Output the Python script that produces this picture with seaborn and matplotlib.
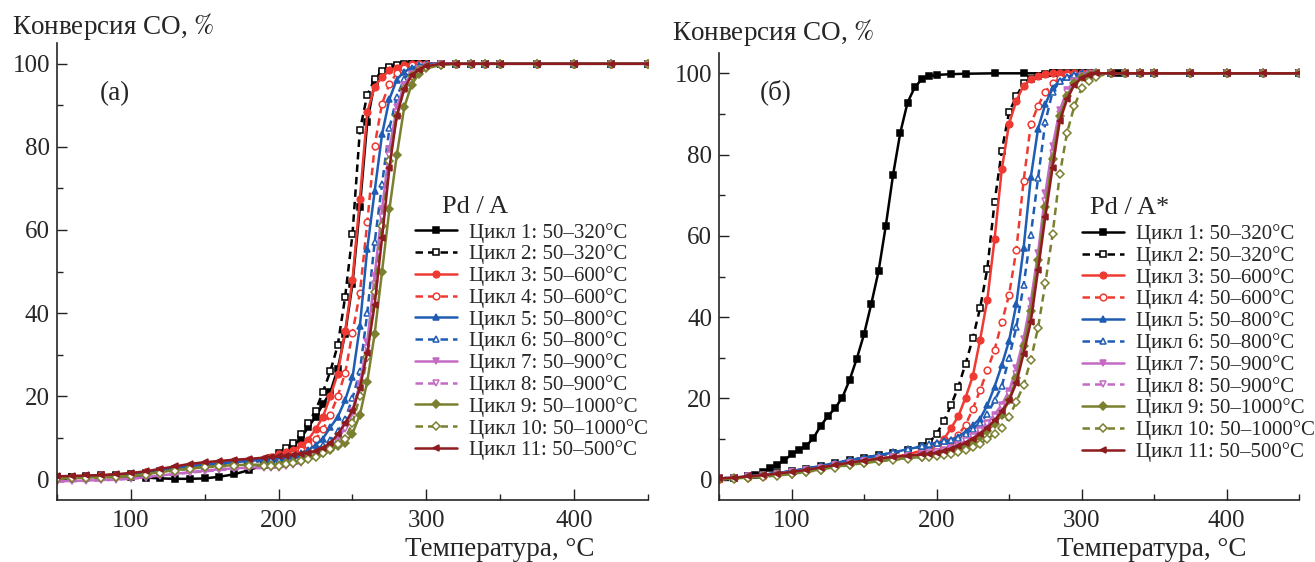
import matplotlib
matplotlib.use("Agg")
import matplotlib.pyplot as plt
import seaborn as sns
from matplotlib.ticker import MultipleLocator

# -------------------------------
# Data
# -------------------------------
LABELS = ["Цикл 1: 50–320°C", "Цикл 2: 50–320°C", "Цикл 3: 50–600°C",
          "Цикл 4: 50–600°C", "Цикл 5: 50–800°C", "Цикл 6: 50–800°C",
          "Цикл 7: 50–900°C", "Цикл 8: 50–900°C", "Цикл 9: 50–1000°C",
          "Цикл 10: 50–1000°C", "Цикл 11: 50–500°C"]

# panel (a) Pd/A
temp_a = [50, 60, 70, 80, 90, 100, 110, 120, 130, 140, 150, 160, 170, 180, 190,
          195, 200, 205, 210, 215, 220, 225, 230, 235, 240, 245, 250, 255, 260, 265, 270, 275, 280, 285, 290, 295, 300,
          310, 320, 330, 340, 350, 375, 400, 425, 450]
a_c1 = [0.5, 0.5, 0.6, 0.6, 0.7, 0.6, 0.4, 0.2, 0.1, 0.1, 0.2, 0.6, 1.2, 2.2, 3.4,
        4.3, 5.0, 6.5, 8.0, 9.8, 12.5, 15.0, 18.0, 21.0, 26.5, 35.0, 47.0, 65.5, 86.0, 95.5, 97.8, 98.9, 99.5, 99.8, 100, 100, 100,
        100, 100, 100, 100, 100, 100, 100, 100, 100]
a_c2 = [0.5, 0.6, 0.7, 0.9, 1.1, 1.3, 1.6, 2.0, 2.4, 2.8, 3.2, 3.5, 3.8, 4.1, 4.5,
        5.2, 6.2, 7.4, 8.8, 11.0, 13.5, 16.5, 21.0, 26.0, 32.2, 43.8, 59.0, 84.0, 92.5, 96.3, 98.2, 99.2, 99.7, 100, 100, 100, 100,
        100, 100, 100, 100, 100, 100, 100, 100, 100]
a_c3 = [0.5, 0.6, 0.8, 0.9, 1.1, 1.3, 1.7, 2.2, 2.8, 3.3, 3.7, 4.0, 4.3, 4.6, 4.9,
        5.3, 6.0, 6.5, 7.0, 8.2, 9.5, 12.0, 15.0, 20.0, 25.4, 35.6, 48.0, 67.5, 88.3, 94.5, 96.8, 98.4, 99.1, 99.6, 100, 100, 100,
        100, 100, 100, 100, 100, 100, 100, 100, 100]
a_c4 = [0.5, 0.6, 0.7, 0.9, 1.1, 1.3, 1.7, 2.2, 2.7, 3.2, 3.6, 3.9, 4.2, 4.5, 4.8,
        5.0, 5.3, 5.6, 6.0, 7.0, 8.2, 9.6, 12.0, 15.5, 20.0, 25.5, 35.3, 44.8, 61.8, 80.3, 90.4, 95.1, 97.8, 99.0, 99.6, 100, 100,
        100, 100, 100, 100, 100, 100, 100, 100, 100]
a_c5 = [0.4, 0.6, 0.7, 0.9, 1.0, 1.2, 1.6, 2.1, 2.6, 3.1, 3.5, 3.8, 4.1, 4.4, 4.7,
        4.8, 5.0, 5.2, 5.5, 6.2, 7.0, 8.2, 9.8, 12.5, 15.0, 19.0, 24.5, 36.8, 55.5, 69.3, 83.0, 91.5, 96.2, 98.1, 99.0, 99.6, 100,
        100, 100, 100, 100, 100, 100, 100, 100, 100]
a_c6 = [0.4, 0.5, 0.7, 0.8, 1.0, 1.2, 1.5, 2.0, 2.5, 3.0, 3.4, 3.7, 4.0, 4.3, 4.5,
        4.6, 4.7, 4.8, 5.0, 5.6, 6.2, 7.0, 8.2, 9.4, 11.5, 14.5, 19.5, 26.0, 40.0, 57.0, 71.0, 84.5, 92.0, 96.4, 98.3, 99.2, 99.7,
        100, 100, 100, 100, 100, 100, 100, 100, 100]
a_c7 = [-0.5, -0.4, -0.3, -0.2, 0.0, 0.2, 0.5, 0.9, 1.3, 1.7, 2.1, 2.4, 2.6, 2.8, 2.9,
        2.95, 3.0, 3.3, 3.7, 4.2, 4.8, 5.6, 6.6, 7.8, 9.4, 12.5, 16.5, 23.0, 33.0, 49.0, 65.0, 79.5, 89.5, 95.0, 97.6, 98.8, 99.5,
        100, 100, 100, 100, 100, 100, 100, 100, 100]
a_c8 = [-0.6, -0.5, -0.4, -0.3, -0.1, 0.1, 0.4, 0.8, 1.2, 1.6, 1.9, 2.2, 2.4, 2.6, 2.7,
        2.75, 2.8, 3.1, 3.5, 4.0, 4.6, 5.4, 6.4, 7.6, 9.0, 12.0, 16.0, 22.0, 31.5, 47.0, 63.0, 78.0, 88.5, 94.5, 97.3, 98.7, 99.4,
        100, 100, 100, 100, 100, 100, 100, 100, 100]
a_c9 = [0.2, 0.3, 0.4, 0.5, 0.6, 0.8, 1.2, 1.7, 2.2, 2.6, 3.0, 3.2, 3.4, 3.5, 3.5,
        3.5, 3.5, 3.8, 4.1, 4.5, 5.0, 5.6, 6.3, 7.0, 8.0, 8.8, 11.0, 15.5, 23.5, 35.0, 50.0, 65.0, 78.0, 89.5, 95.0, 97.6, 98.9,
        99.7, 100, 100, 100, 100, 100, 100, 100, 100]
a_c10 = [0.1, 0.2, 0.3, 0.4, 0.6, 0.8, 1.1, 1.6, 2.1, 2.5, 2.9, 3.1, 3.2, 3.3, 3.3,
         3.3, 3.3, 3.6, 3.9, 4.3, 4.8, 5.4, 6.2, 7.2, 8.4, 9.8, 13.5, 20.0, 29.5, 45.0, 61.0, 76.5, 87.5, 94.0, 97.0, 98.5, 99.3,
         99.8, 100, 100, 100, 100, 100, 100, 100, 100]
a_c11 = [0.7, 0.8, 0.9, 1.0, 1.2, 1.5, 1.9, 2.5, 3.1, 3.7, 4.1, 4.4, 4.7, 4.9, 5.2,
         5.3, 5.5, 5.7, 5.9, 6.1, 6.4, 6.8, 7.5, 8.7, 10.8, 13.5, 16.5, 22.0, 30.5, 42.0, 58.0, 75.0, 87.5, 94.0, 97.2, 98.6, 99.4,
         100, 100, 100, 100, 100, 100, 100, 100, 100]

# panel (б) Pd/A*
temp_b1 = [50, 60, 70, 75, 80, 85, 90, 95, 100, 105, 110, 115, 120, 125, 130, 135, 140, 145, 150, 155,
           160, 165, 170, 175, 180, 185, 190, 195, 200, 210, 220, 240, 260, 280, 300, 325, 350, 375, 400, 425, 450]
b_c1 = [0.2, 0.4, 0.8, 1.1, 1.8, 2.8, 3.7, 4.8, 6.2, 7.3, 8.3, 10.2, 13.2, 15.6, 17.6, 20.2, 24.5, 29.8, 35.8, 43.3,
        51.3, 62.5, 75.0, 85.4, 92.8, 96.6, 98.6, 99.3, 99.6, 99.8, 99.9, 100, 100, 100, 100, 100, 100, 100, 100, 100, 100]

temp_b = [50, 60, 70, 80, 90, 100, 110, 120, 130, 140, 150, 160, 170, 180, 190,
          195, 200, 205, 210, 215, 220, 225, 230, 235, 240, 245, 250, 255, 260, 265, 270, 275, 280, 285, 290, 295, 300, 305,
          310, 320, 330, 340, 350, 375, 400, 425, 450]
b_c2 = [0.3, 0.5, 0.8, 1.2, 1.6, 2.1, 2.7, 3.4, 4.1, 4.8, 5.4, 6.0, 6.5, 7.2, 8.3,
        9.2, 11.2, 14.4, 18.3, 22.9, 28.5, 34.8, 42.2, 51.9, 68.3, 81.0, 90.4, 94.3, 97.5, 98.7, 99.4, 99.8, 100, 100, 100, 100, 100, 100,
        100, 100, 100, 100, 100, 100, 100, 100, 100]
b_c3 = [0.2, 0.4, 0.7, 1.0, 1.4, 1.8, 2.3, 2.9, 3.5, 4.1, 4.6, 5.1, 5.6, 6.2, 7.2,
        8.0, 8.8, 9.9, 12.7, 15.6, 20.2, 25.5, 34.4, 44.3, 59.2, 76.4, 87.6, 93.2, 97.0, 98.5, 99.3, 99.8, 100, 100, 100, 100, 100, 100,
        100, 100, 100, 100, 100, 100, 100, 100, 100]
b_c4 = [0.2, 0.4, 0.7, 1.0, 1.4, 1.8, 2.3, 2.9, 3.5, 4.1, 4.6, 5.1, 5.6, 6.1, 6.7,
        7.2, 7.8, 8.6, 9.5, 11.0, 13.5, 17.4, 22.0, 26.9, 32.0, 38.7, 45.5, 56.5, 73.4, 87.5, 92.0, 95.5, 97.5, 98.8, 99.5, 99.9, 100, 100,
        100, 100, 100, 100, 100, 100, 100, 100, 100]
b_c5 = [0.3, 0.5, 0.8, 1.2, 1.6, 2.1, 2.7, 3.4, 4.1, 4.8, 5.4, 6.0, 6.7, 7.5, 8.2,
        8.6, 9.0, 9.4, 9.8, 10.6, 11.8, 13.4, 15.0, 18.3, 22.9, 28.2, 34.2, 43.2, 56.9, 74.4, 86.4, 92.4, 96.5, 98.1, 99.1, 99.7, 100, 100,
        100, 100, 100, 100, 100, 100, 100, 100, 100]
b_c6 = [0.3, 0.5, 0.8, 1.2, 1.6, 2.1, 2.7, 3.4, 4.1, 4.8, 5.4, 6.0, 6.7, 7.5, 8.3,
        8.7, 9.0, 9.4, 9.8, 10.2, 11.2, 12.5, 14.0, 16.2, 19.5, 23.0, 30.0, 37.5, 47.8, 60.3, 74.2, 88.0, 95.5, 98.0, 99.1, 99.6, 100, 100,
        100, 100, 100, 100, 100, 100, 100, 100, 100]
b_c7 = [0.3, 0.5, 0.8, 1.1, 1.5, 1.9, 2.4, 3.0, 3.6, 4.2, 4.7, 5.2, 5.6, 5.9, 6.2,
        6.5, 6.8, 7.2, 7.8, 8.6, 9.6, 10.8, 12.3, 14.0, 16.0, 18.5, 21.8, 27.5, 34.7, 44.0, 55.8, 70.5, 82.1, 91.0, 95.8, 98.2, 99.3, 99.8,
        100, 100, 100, 100, 100, 100, 100, 100, 100]
b_c8 = [0.2, 0.4, 0.7, 1.0, 1.4, 1.8, 2.3, 2.9, 3.5, 4.1, 4.6, 5.1, 5.5, 5.8, 6.1,
        6.4, 6.7, 7.1, 7.6, 8.4, 9.4, 10.5, 12.0, 13.6, 15.5, 18.0, 21.0, 26.0, 33.0, 42.0, 53.5, 68.5, 80.5, 90.0, 95.3, 97.9, 99.1, 99.7,
        100, 100, 100, 100, 100, 100, 100, 100, 100]
b_c9 = [0.1, 0.3, 0.5, 0.8, 1.1, 1.5, 2.0, 2.5, 3.1, 3.7, 4.2, 4.6, 5.0, 5.3, 5.6,
        5.8, 6.0, 6.3, 6.8, 7.4, 8.2, 9.2, 10.5, 12.0, 13.8, 16.0, 19.5, 25.0, 33.0, 41.5, 54.0, 67.0, 79.0, 89.5, 94.3, 97.5, 99.0, 99.6,
        100, 100, 100, 100, 100, 100, 100, 100, 100]
b_c10 = [0.1, 0.2, 0.4, 0.7, 1.0, 1.4, 1.9, 2.4, 3.0, 3.6, 4.1, 4.5, 4.9, 5.2, 5.5,
         5.7, 5.9, 6.1, 6.4, 6.8, 7.3, 8.0, 8.9, 10.0, 11.3, 12.8, 15.4, 19.2, 23.2, 29.5, 37.4, 48.3, 60.4, 75.2, 85.4, 91.9, 96.3, 98.2,
         99.2, 100, 100, 100, 100, 100, 100, 100, 100]
b_c11 = [0.3, 0.5, 0.8, 1.1, 1.5, 1.9, 2.4, 3.0, 3.6, 4.2, 4.7, 5.2, 5.6, 5.9, 6.2,
         6.4, 6.6, 7.0, 7.5, 8.2, 9.0, 10.0, 11.3, 12.8, 14.6, 16.8, 19.5, 23.8, 31.0, 38.9, 51.6, 64.7, 76.8, 88.3, 93.6, 97.2, 98.8, 99.5,
         100, 100, 100, 100, 100, 100, 100, 100, 100]

# -------------------------------
# Styling per cycle
# -------------------------------
BLACK, RED, BLUE = "#000000", "#ee3a32", "#1f5cb3"
MAGENTA, OLIVE, DARKRED = "#c46ac4", "#7b8030", "#8d1b1f"
colors = [BLACK, BLACK, RED, RED, BLUE, BLUE, MAGENTA, MAGENTA, OLIVE, OLIVE, DARKRED]
markers = ["s", "s", "o", "o", "^", "^", "v", "v", "D", "D", "<"]
dashed = [False, True, False, True, False, True, False, True, False, True, False]

sns.set_style("ticks")
plt.rcParams["font.family"] = ["Liberation Serif", "DejaVu Serif"]
plt.rcParams["mathtext.fontset"] = "stix"

fig = plt.figure(figsize=(13.15, 5.62), dpi=100)
ax_a = fig.add_axes([0.0433, 0.1103, 0.4495, 0.8132])
ax_b = fig.add_axes([0.5468, 0.1103, 0.4411, 0.7954])


def draw_panel(ax, series, title, tag, tag_y, leg_xy, title_xy):
    for i, (tx, ty) in enumerate(series):
        sns.lineplot(x=tx, y=ty, ax=ax, color=colors[i], errorbar=None,
                     linestyle=(0, (3, 2)) if dashed[i] else "-", linewidth=1.8,
                     marker=markers[i], markersize=4.8 if markers[i] != "D" else 4.0,
                     markerfacecolor="white" if dashed[i] else colors[i],
                     markeredgecolor=colors[i], markeredgewidth=1.1,
                     label=LABELS[i])
    ax.set_xlim(50, 450)
    ax.set_ylim(-5, 105)
    ax.xaxis.set_major_locator(MultipleLocator(100))
    ax.xaxis.set_minor_locator(MultipleLocator(50))
    ax.yaxis.set_major_locator(MultipleLocator(20))
    ax.yaxis.set_minor_locator(MultipleLocator(10))
    ax.set_xticks([100, 200, 300, 400])
    ax.tick_params(which="both", direction="in", labelsize=18, width=1.0, color="#222222")
    ax.tick_params(axis="x", which="major", length=8, pad=7)
    ax.tick_params(axis="y", which="major", length=7, pad=5)
    ax.tick_params(which="minor", length=4)
    sns.despine(ax=ax)
    for side in ("left", "bottom"):
        ax.spines[side].set_linewidth(1.2)
    ax.set_ylabel("")
    ax.set_xlabel("Температура, °C", fontsize=19.5, ha="right")
    ax.xaxis.set_label_coords(0.91, -0.082)
    ax.text(0.098, tag_y, tag, transform=ax.transAxes,
            fontsize=19.5, ha="center", va="center")
    ax.text(title_xy[0], title_xy[1], title, transform=ax.transAxes,
            fontsize=19, ha="left", va="center")
    ax.legend(loc="upper left", bbox_to_anchor=leg_xy, frameon=False, fontsize=15,
              handlelength=2.0, handletextpad=0.6, labelspacing=0.09,
              borderaxespad=0, borderpad=0)


series_a = [(temp_a, s) for s in (a_c1, a_c2, a_c3, a_c4, a_c5, a_c6,
                                   a_c7, a_c8, a_c9, a_c10, a_c11)]
series_b = [(temp_b1, b_c1)] + [(temp_b, s) for s in (b_c2, b_c3, b_c4, b_c5, b_c6,
                                                        b_c7, b_c8, b_c9, b_c10, b_c11)]

draw_panel(ax_a, series_a, "Pd / A", "(a)", 0.89, (0.606, 0.607), (0.651, 0.641))
draw_panel(ax_b, series_b, "Pd / A*", "(б)", 0.912, (0.626, 0.617), (0.64, 0.653))

fig.text(12 / 1315, 1 - 27 / 562, r"Конверсия CO, $\mathit{\%}$", fontsize=19.5,
         ha="left", va="center")
fig.text(672 / 1315, 1 - 33 / 562, r"Конверсия CO, $\mathit{\%}$", fontsize=19.5,
         ha="left", va="center")

fig.savefig("out.png", dpi=100)
